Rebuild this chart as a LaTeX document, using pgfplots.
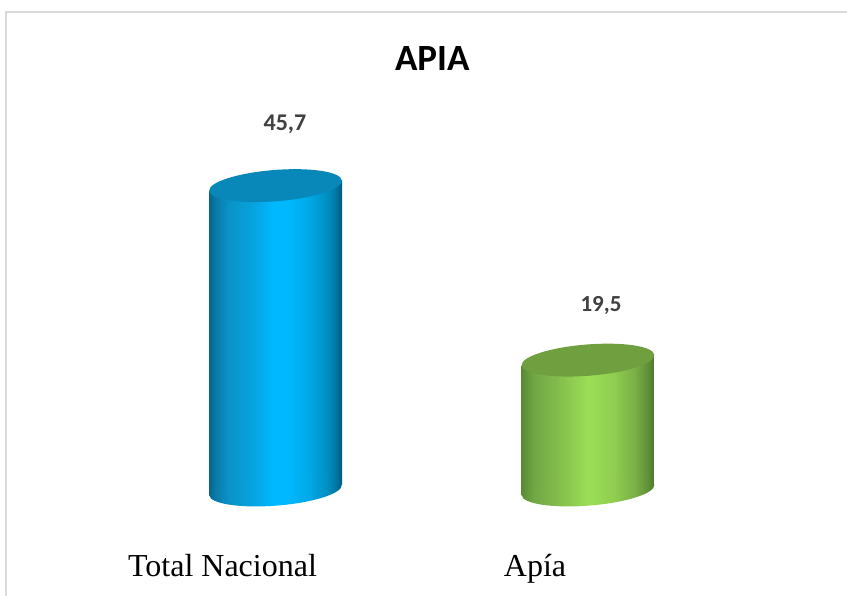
\documentclass[border=0pt]{standalone}
\usepackage{fontspec}
\setmainfont{Liberation Serif}
\newfontfamily\carlito{Carlito}
\usepackage{pgfplots}
\pgfplotsset{compat=1.18}
\definecolor{frameg}{HTML}{D9D9D9}
\definecolor{lab}{HTML}{404040}
\definecolor{topblue}{HTML}{0888B8}
\definecolor{topgreen}{HTML}{6F9F3F}
\pgfdeclarehorizontalshading{cylblue}{100bp}{
 color(0bp)=(rgb,255:red,5;green,101;blue,140);
 color(25bp)=(rgb,255:red,5;green,101;blue,140);
 color(27.5bp)=(rgb,255:red,10;green,122;blue,168);
 color(32.5bp)=(rgb,255:red,10;green,147;blue,200);
 color(40bp)=(rgb,255:red,8;green,160;blue,218);
 color(49bp)=(rgb,255:red,0;green,184;blue,255);
 color(55bp)=(rgb,255:red,0;green,184;blue,255);
 color(62.5bp)=(rgb,255:red,0;green,168;blue,230);
 color(69bp)=(rgb,255:red,0;green,144;blue,196);
 color(72.5bp)=(rgb,255:red,0;green,120;blue,165);
 color(75bp)=(rgb,255:red,0;green,88;blue,120);
 color(100bp)=(rgb,255:red,0;green,88;blue,120)}
\pgfdeclarehorizontalshading{cylgreen}{100bp}{
 color(0bp)=(rgb,255:red,90;green,138;blue,50);
 color(25bp)=(rgb,255:red,90;green,138;blue,50);
 color(30bp)=(rgb,255:red,114;green,168;blue,69);
 color(40bp)=(rgb,255:red,134;green,192;blue,78);
 color(50bp)=(rgb,255:red,155;green,223;blue,86);
 color(60bp)=(rgb,255:red,143;green,204;blue,80);
 color(67.5bp)=(rgb,255:red,122;green,176;blue,70);
 color(72.5bp)=(rgb,255:red,95;green,143;blue,56);
 color(75bp)=(rgb,255:red,76;green,117;blue,48);
 color(100bp)=(rgb,255:red,76;green,117;blue,48)}
\pgfdeclareplotmark{elltop}{%
 \pgfpathellipse{\pgfpointorigin}{\pgfqpoint{66.3pt}{5.2pt}}{\pgfqpoint{-1.3pt}{15.6pt}}%
 \pgfusepathqfill}
\pgfdeclareplotmark{ellbotblue}{%
 \pgfpathellipse{\pgfpointorigin}{\pgfqpoint{66.3pt}{5.2pt}}{\pgfqpoint{-1.3pt}{15.6pt}}%
 \pgfshadepath{cylblue}{0}\pgfusepath{discard}}
\pgfdeclareplotmark{ellbotgreen}{%
 \pgfpathellipse{\pgfpointorigin}{\pgfqpoint{66.3pt}{5.2pt}}{\pgfqpoint{-1.3pt}{15.6pt}}%
 \pgfshadepath{cylgreen}{0}\pgfusepath{discard}}
\begin{document}
\begin{tikzpicture}[x=1pt,y=1pt]
\path[use as bounding box] (0,-106) rectangle (847,490);
\draw[frameg,line width=2pt] (6,-106) -- (6,478) -- (847,478);
\begin{axis}[
  at={(0pt,0pt)},anchor=south west,
  scale only axis,width=847pt,height=490pt,
  xmin=-0.8816,xmax=1.8288,ymin=0,ymax=73.57,
  clip=false,
  hide y axis,
  axis x line*=bottom,
  x axis line style={draw=none},
  major tick length=0pt,
  xtick={0,1},
  xticklabels={Total Nacional,Apía},
  xticklabel style={font=\fontsize{32}{36}\selectfont,anchor=base,yshift=-87pt,xshift=-53pt},
]
% bottom caps
\addplot[only marks,mark=ellbotblue] coordinates {(0,0)};
\addplot[only marks,mark=ellbotgreen] coordinates {(1,0)};
% bodies
\addplot[ybar,bar shift=0pt,bar width=133pt,draw=none,shading=cylblue,
  yshift=-21.76pt,yslant=0.079] coordinates {(0,45.7)};
\addplot[ybar,bar shift=0pt,bar width=133pt,draw=none,shading=cylgreen,
  yshift=-46.45pt,yslant=0.079] coordinates {(1,19.5)};
% top caps
\addplot[only marks,mark=elltop,mark options={fill=topblue,draw=none}] coordinates {(0,45.7)};
\addplot[only marks,mark=elltop,mark options={fill=topgreen,draw=none}] coordinates {(1,19.5)};
\node[font=\carlito\bfseries\fontsize{24}{28}\selectfont,text=lab] at (axis cs:0.0304,54.9) {45,7};
\node[font=\carlito\bfseries\fontsize{23}{28}\selectfont,text=lab] at (axis cs:1.0416,27.7) {19,5};
\node[font=\carlito\bfseries\fontsize{37}{42}\selectfont,text=black] at (axis cs:0.5016,64.8) {APIA};
\end{axis}
\end{tikzpicture}
\end{document}
